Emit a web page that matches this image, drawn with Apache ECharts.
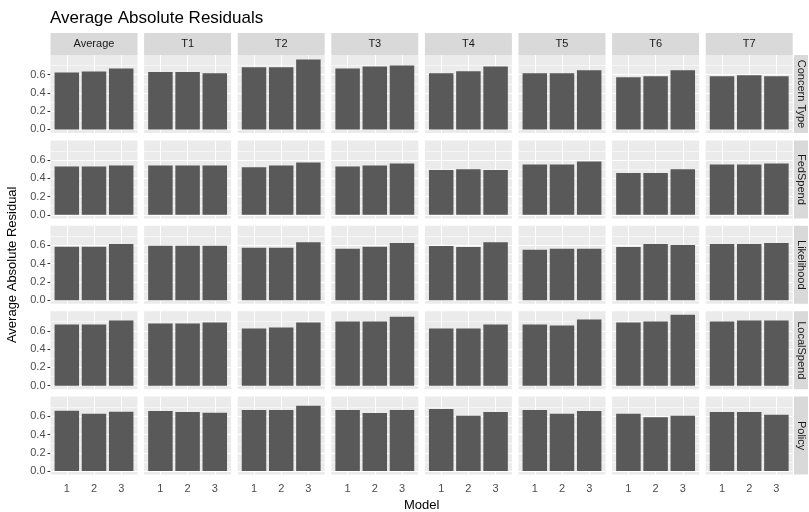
<!DOCTYPE html>
<html>
<head>
<meta charset="utf-8">
<style>
  html, body { margin: 0; padding: 0; background: #ffffff; }
  #chart { width: 809px; height: 512px; }
</style>
<script src="https://cdn.jsdelivr.net/npm/echarts@6/dist/echarts.min.js"></script>
</head>
<body>
<div id="chart"></div>
<script>
// Facet labels
const columns = ['Average', 'T1', 'T2', 'T3', 'T4', 'T5', 'T6', 'T7'];
const rows = ['Concern Type', 'FedSpend', 'Likelihood', 'LocalSpend', 'Policy'];
const models = [1, 2, 3];
const yTicks = [0, 0.2, 0.4, 0.6];
const yMinorGrid = [0.1, 0.3, 0.5, 0.7];

// Average absolute residual per column (Average, T1..T7), models 1-3
const concernType = [
  [0.623, 0.634, 0.667], [0.630, 0.630, 0.615], [0.680, 0.680, 0.765], [0.667, 0.690, 0.700],
  [0.615, 0.637, 0.690], [0.615, 0.615, 0.648], [0.572, 0.583, 0.648], [0.583, 0.594, 0.583]
];
const fedSpend = [
  [0.530, 0.530, 0.541], [0.541, 0.541, 0.541], [0.520, 0.541, 0.574], [0.530, 0.541, 0.563],
  [0.490, 0.500, 0.490], [0.552, 0.552, 0.585], [0.457, 0.457, 0.498], [0.552, 0.552, 0.563]
];
const likelihood = [
  [0.586, 0.586, 0.615], [0.597, 0.597, 0.597], [0.575, 0.575, 0.634], [0.564, 0.586, 0.626],
  [0.594, 0.583, 0.634], [0.553, 0.564, 0.564], [0.583, 0.615, 0.605], [0.615, 0.615, 0.626]
];
const localSpend = [
  [0.670, 0.670, 0.714], [0.681, 0.681, 0.692], [0.626, 0.637, 0.692], [0.703, 0.703, 0.754],
  [0.626, 0.626, 0.670], [0.670, 0.659, 0.725], [0.692, 0.703, 0.776], [0.703, 0.714, 0.714]
];
const policy = [
  [0.659, 0.626, 0.648], [0.656, 0.645, 0.637], [0.667, 0.667, 0.714], [0.667, 0.634, 0.667],
  [0.678, 0.605, 0.645], [0.667, 0.626, 0.656], [0.626, 0.590, 0.605], [0.645, 0.645, 0.615]
];

const rowValues = [concernType, fedSpend, likelihood, localSpend, policy];

// Panel layout
const FONT = '"Liberation Sans", Arial, sans-serif';
const panelLeft0 = 50.5, panelStepX = 93.6, panelW = 87;
const panelTop0 = 55, panelStepY = 85.4, panelH = 78;
const stripTopY = 33, stripTopH = 22;
const stripRightX = 794, stripRightW = 14;

// Shared y scale with ggplot-style 5% expansion
let maxVal = 0;
rowValues.forEach(r => r.forEach(c => c.forEach(v => { maxVal = Math.max(maxVal, v); })));
const yMin = -0.05 * maxVal;
const yMax = 1.05 * maxVal;

const grids = [], xAxes = [], yAxes = [], series = [], graphics = [];

rows.forEach((rowName, ri) => {
  columns.forEach((colName, ci) => {
    const idx = grids.length;
    const left = panelLeft0 + ci * panelStepX;
    const top = panelTop0 + ri * panelStepY;
    const isBottom = ri === rows.length - 1;
    const isLeft = ci === 0;

    grids.push({
      left: left, top: top, width: panelW, height: panelH,
      show: true, backgroundColor: '#EBEBEB', borderWidth: 0
    });

    xAxes.push({
      type: 'value', gridIndex: idx, min: 0.4, max: 3.6,
      axisLine: { show: false },
      splitLine: { show: false },
      axisTick: { show: isBottom, customValues: models, length: 3, lineStyle: { color: '#333333', width: 1 } },
      axisLabel: {
        show: isBottom, customValues: models, margin: 9,
        color: '#4D4D4D', fontSize: 11, fontFamily: FONT,
        formatter: v => String(v)
      }
    });

    yAxes.push({
      type: 'value', gridIndex: idx, min: yMin, max: yMax,
      axisLine: { show: false },
      splitLine: { show: false },
      axisTick: { show: isLeft, customValues: yTicks, length: 3, lineStyle: { color: '#333333', width: 1 } },
      axisLabel: {
        show: isLeft, customValues: yTicks, margin: 5,
        color: '#4D4D4D', fontSize: 11, fontFamily: FONT,
        formatter: v => v.toFixed(1)
      }
    });

    const gridLines = [];
    yTicks.forEach(v => gridLines.push({ yAxis: v, lineStyle: { width: 1.1 } }));
    yMinorGrid.forEach(v => { if (v < yMax) gridLines.push({ yAxis: v, lineStyle: { width: 0.55 } }); });
    models.forEach(m => gridLines.push({ xAxis: m, lineStyle: { width: 1.1 } }));

    series.push({
      type: 'bar', xAxisIndex: idx, yAxisIndex: idx,
      data: models.map((m, k) => [m, rowValues[ri][ci][k]]),
      barWidth: 24.5,
      itemStyle: { color: '#595959' },
      z: 2,
      silent: true,
      animation: false,
      markLine: {
        silent: true, z: 1, animation: false,
        symbol: ['none', 'none'],
        label: { show: false },
        lineStyle: { color: '#FFFFFF', type: 'solid' },
        emphasis: { disabled: true },
        data: gridLines
      }
    });
  });
});

// Column strips across the top
columns.forEach((name, ci) => {
  const left = panelLeft0 + ci * panelStepX;
  graphics.push({
    type: 'rect', shape: { x: left, y: stripTopY, width: panelW, height: stripTopH },
    style: { fill: '#D9D9D9' }, silent: true
  });
  graphics.push({
    type: 'text', x: left + panelW / 2, y: stripTopY + stripTopH / 2,
    style: { text: name, fill: '#1A1A1A', font: '11px ' + FONT, textAlign: 'center', textVerticalAlign: 'middle' },
    silent: true
  });
});

// Row strips on the right
rows.forEach((name, ri) => {
  const top = panelTop0 + ri * panelStepY;
  graphics.push({
    type: 'rect', shape: { x: stripRightX, y: top, width: stripRightW, height: panelH },
    style: { fill: '#D9D9D9' }, silent: true
  });
  graphics.push({
    type: 'text', x: stripRightX + stripRightW / 2, y: top + panelH / 2,
    rotation: -Math.PI / 2,
    style: { text: name, fill: '#1A1A1A', font: '11px ' + FONT, textAlign: 'center', textVerticalAlign: 'middle' },
    silent: true
  });
});

// Title and axis titles
const panelsRight = panelLeft0 + (columns.length - 1) * panelStepX + panelW;
const panelsBottom = panelTop0 + (rows.length - 1) * panelStepY + panelH;
graphics.push({
  type: 'text', x: 50, y: 18,
  style: { text: 'Average Absolute Residuals', fill: '#000000', font: '17px ' + FONT, textAlign: 'left', textVerticalAlign: 'middle' },
  silent: true
});
graphics.push({
  type: 'text', x: (panelLeft0 + panelsRight) / 2, y: 505,
  style: { text: 'Model', fill: '#000000', font: '13px ' + FONT, textAlign: 'center', textVerticalAlign: 'middle' },
  silent: true
});
graphics.push({
  type: 'text', x: 12, y: (panelTop0 + panelsBottom) / 2,
  rotation: Math.PI / 2,
  style: { text: 'Average Absolute Residual', fill: '#000000', font: '13px ' + FONT, textAlign: 'center', textVerticalAlign: 'middle' },
  silent: true
});

const chart = echarts.init(document.getElementById('chart'), null, { renderer: 'canvas' });
chart.setOption({
  backgroundColor: '#FFFFFF',
  animation: false,
  grid: grids,
  xAxis: xAxes,
  yAxis: yAxes,
  series: series,
  graphic: graphics
});
</script>
</body>
</html>
